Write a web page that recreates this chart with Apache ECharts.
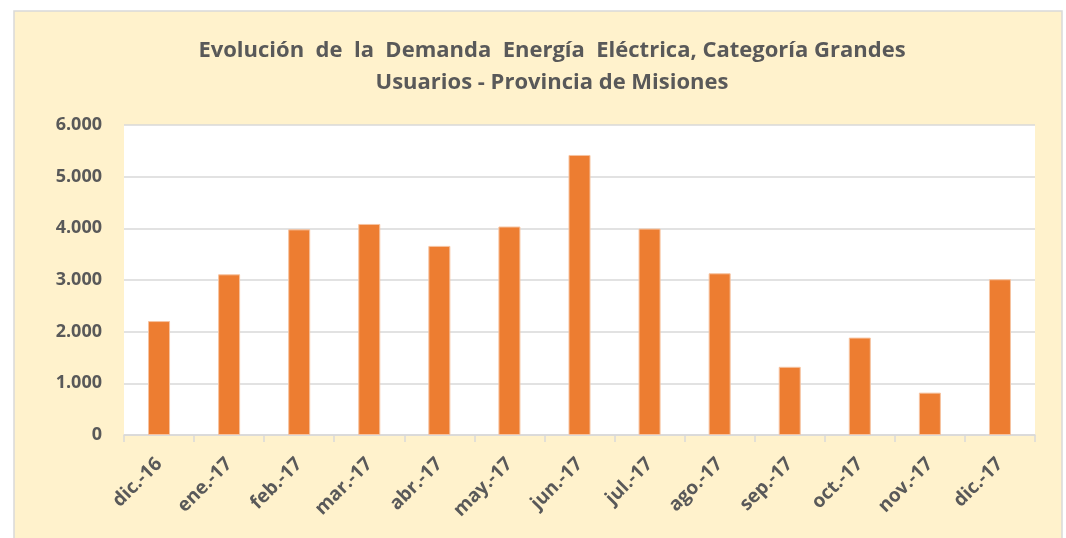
<!DOCTYPE html>
<html>
<head>
<meta charset="utf-8">
<script src="https://cdn.jsdelivr.net/npm/echarts@6/dist/echarts.min.js"></script>
<style>
  html, body { margin: 0; padding: 0; background: #fff; }
  #chart { width: 1066px; height: 538px; }
</style>
</head>
<body>
<div id="chart"></div>
<script>
// datos
let months = ['dic.-16', 'ene.-17', 'feb.-17', 'mar.-17', 'abr.-17', 'may.-17', 'jun.-17',
  'jul.-17', 'ago.-17', 'sep.-17', 'oct.-17', 'nov.-17', 'dic.-17']
let demanda = [2205, 3110, 3980, 4085, 3660, 4035, 5420, 3995, 3130, 1320, 1885, 820, 3015]
let yTicks = [0, 1000, 2000, 3000, 4000, 5000, 6000]

let chart = echarts.init(document.getElementById('chart'))
let font = '"Open Sans", sans-serif'
let gray = '#595959'

let option = {
  backgroundColor: '#ffffff',
  animation: false,
  graphic: [
    {
      type: 'rect',
      z: -10,
      shape: {x: 14, y: 11, width: 1048, height: 540},
      style: {fill: '#fff2cc', stroke: '#d9d9d9', lineWidth: 1.5}
    }
  ],
  title: {
    text: 'Evolución  de  la  Demanda  Energía  Eléctrica, Categoría Grandes\nUsuarios - Provincia de Misiones',
    left: 547,
    top: 30,
    textAlign: 'center',
    textStyle: {
      fontFamily: font,
      fontSize: 22,
      fontWeight: 'bold',
      color: gray,
      lineHeight: 32
    }
  },
  grid: {
    left: 124,
    right: 31,
    top: 125,
    bottom: 103,
    show: true,
    backgroundColor: '#ffffff',
    borderWidth: 0
  },
  xAxis: {
    type: 'category',
    data: months,
    axisLine: {lineStyle: {color: '#d9d9d9', width: 1.5}},
    axisTick: {show: true, length: 7, lineStyle: {color: '#d9d9d9', width: 1.5}},
    axisLabel: {
      interval: 0,
      rotate: 45,
      margin: 26,
      fontFamily: font,
      fontSize: 19,
      fontWeight: 'bold',
      color: gray
    }
  },
  yAxis: {
    type: 'value',
    min: 0,
    max: 6000,
    interval: 1000,
    axisLine: {show: false},
    axisTick: {show: false},
    splitLine: {lineStyle: {color: '#d9d9d9', width: 1.5}},
    axisLabel: {
      margin: 22,
      fontFamily: font,
      fontSize: 18,
      fontWeight: 'bold',
      color: gray,
      formatter: v => yTicks.includes(v) ? v.toLocaleString('de-DE') : ''
    }
  },
  series: [
    {
      name: 'Demanda',
      type: 'bar',
      barWidth: 22,
      itemStyle: {color: '#ed7d31', borderColor: '#f6c3a0', borderWidth: 1},
      data: demanda
    }
  ]
}
chart.setOption(option)
</script>
</body>
</html>
